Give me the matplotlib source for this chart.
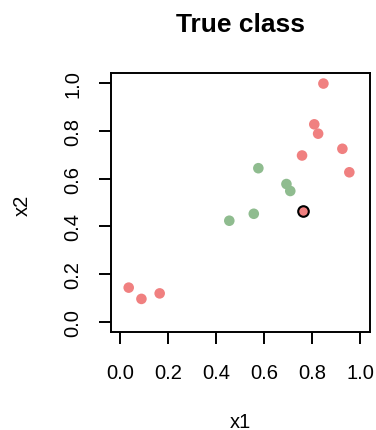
import matplotlib.pyplot as plt

plt.rcParams['font.family'] = ['Liberation Sans', 'DejaVu Sans']

# points by true class
red_x = [0.035, 0.088, 0.164, 0.757, 0.808, 0.824, 0.846, 0.925, 0.954]
red_y = [0.145, 0.098, 0.121, 0.696, 0.826, 0.787, 0.996, 0.724, 0.626]
green_x = [0.454, 0.556, 0.575, 0.692, 0.708]
green_y = [0.424, 0.453, 0.643, 0.577, 0.548]
# highlighted query point
query_x = [0.761]
query_y = [0.466]

ticks = [0.0, 0.2, 0.4, 0.6, 0.8, 1.0]
tick_labels = ['0.0', '0.2', '0.4', '0.6', '0.8', '1.0']

fig = plt.figure(figsize=(3.76, 4.31), dpi=100)
ax = fig.add_axes([0.2944, 0.2274, 0.6896, 0.6009])

ax.scatter(red_x, red_y, s=58, color='#F08080', edgecolors='none', zorder=3)
ax.scatter(green_x, green_y, s=58, color='#8FBC8F', edgecolors='none', zorder=3)
ax.scatter(query_x, query_y, s=58, color='#F08080', edgecolors='black',
           linewidths=1.5, zorder=4)

ax.set_xlim(-0.04, 1.04)
ax.set_ylim(-0.04, 1.04)
ax.set_xticks(ticks)
ax.set_xticklabels(tick_labels)
ax.set_yticks(ticks)
ax.set_yticklabels(tick_labels, rotation=90, va='center')
ax.tick_params(axis='both', labelsize=14.5, length=8.5, width=1.4)
ax.tick_params(axis='x', pad=14)
ax.tick_params(axis='y', pad=12)

for s in ax.spines.values():
    s.set_linewidth(1.4)

fig.text(240 / 376, 1 - 25 / 431, 'True class', fontsize=19, fontweight='bold',
         ha='center', va='center')
fig.text(240 / 376, 1 - 423 / 431, 'x1', fontsize=14.5, ha='center', va='center')
fig.text(22 / 376, 1 - 205 / 431, 'x2', fontsize=14.5, ha='center', va='center',
         rotation=90)

fig.savefig('out.png', dpi=100)
